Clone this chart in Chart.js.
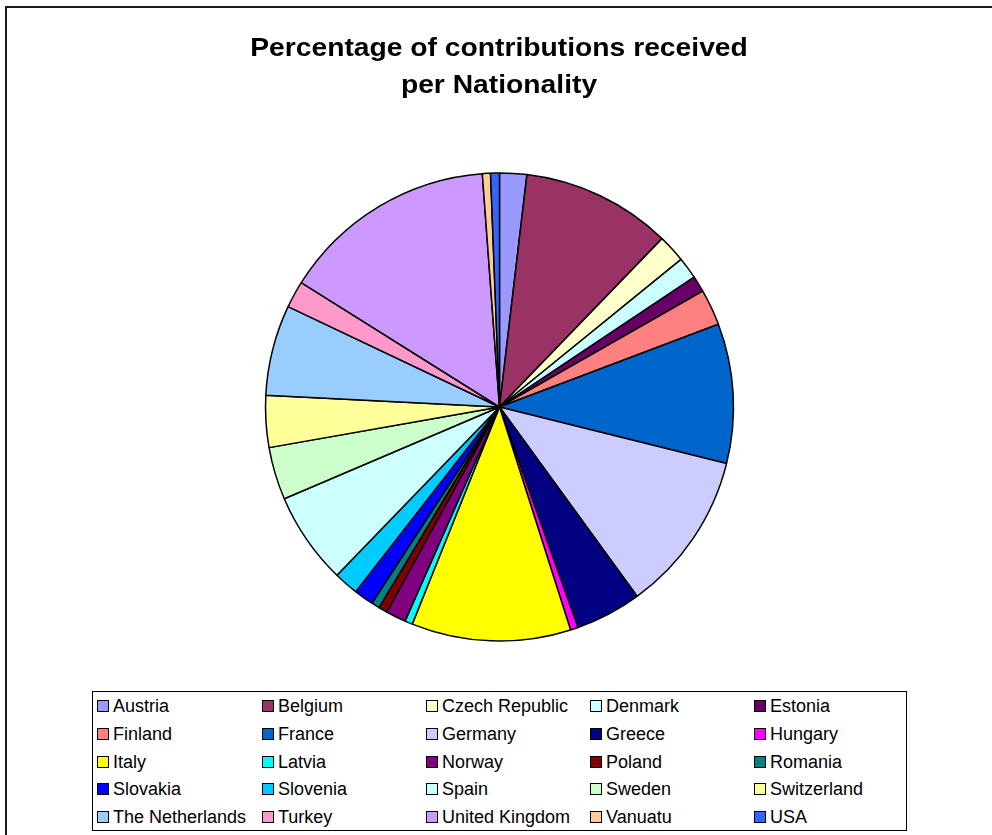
<!DOCTYPE html>
<html>
<head>
<meta charset="utf-8">
<script src="https://cdn.jsdelivr.net/npm/chart.js@4/dist/chart.umd.min.js"></script>
<style>
  html, body { margin: 0; padding: 0; background: #fff; }
  #wrap { position: relative; width: 992px; height: 835px; overflow: hidden; background: #fff; }
  #frame { position: absolute; left: 5px; top: 6px; width: 1000px; height: 900px; border-left: 2px solid #1a1a1a; border-top: 2px solid #1a1a1a; }
  #c { position: absolute; left: 0; top: 0; }
  #title { position: absolute; left: 0; top: 29px; width: 998px; text-align: center;
           font-family: "Liberation Sans", Arial, sans-serif; font-weight: bold; font-size: 25px;
           line-height: 37px; color: #000; transform: scaleX(1.13); transform-origin: 499px 0; }
  #legend { position: absolute; left: 92px; top: 691px; width: 815px; height: 140px; box-sizing: border-box;
            border: 1px solid #000; background: #fff; }
  .item { position: absolute; height: 20px; display: flex; align-items: center; white-space: nowrap;
          font-family: "Liberation Sans", Arial, sans-serif; font-size: 18px; line-height: 20px; color: #000; }
  .mk { width: 10px; height: 10px; border: 1.5px solid #000; margin-right: 4px; flex: none; }
</style>
</head>
<body>
<div id="wrap">
  <div id="frame"></div>
  <canvas id="c" width="992" height="835"></canvas>
  <div id="title">Percentage of contributions received<br>per Nationality</div>
  <div id="legend"></div>
</div>
<script>
const countries = ["Austria","Belgium","Czech Republic","Denmark","Estonia","Finland","France","Germany","Greece","Hungary","Italy","Latvia","Norway","Poland","Romania","Slovakia","Slovenia","Spain","Sweden","Switzerland","The Netherlands","Turkey","United Kingdom","Vanuatu","USA"];
const percentages = [1.87,10.35,1.92,1.50,1.11,2.50,9.64,11.11,4.56,0.53,11.00,0.53,1.39,0.61,0.56,1.36,1.69,6.36,3.64,3.58,6.25,1.86,14.92,0.56,0.61];
const sliceColors = ["#9999FF","#993366","#FFFFCC","#CCFFFF","#660066","#FF8080","#0066CC","#CCCCFF","#000080","#FF00FF","#FFFF00","#00FFFF","#800080","#800000","#008080","#0000FF","#00CCFF","#CCFFFF","#CCFFCC","#FFFF99","#99CCFF","#FF99CC","#CC99FF","#FFCC99","#3366FF"];

new Chart(document.getElementById('c'), {
  type: 'pie',
  data: {
    labels: countries,
    datasets: [{
      data: percentages,
      backgroundColor: sliceColors,
      borderColor: '#000',
      borderWidth: 1.5,
      hoverOffset: 0,
      offset: 0
    }]
  },
  options: {
    responsive: false,
    animation: false,
    radius: 234,
    layout: { padding: { left: 7, right: 0, top: 0, bottom: 21 } },
    plugins: { legend: { display: false }, title: { display: false }, tooltip: { enabled: false } },
    events: []
  }
});

// HTML legend built from the same arrays (5 columns)
const legend = document.getElementById('legend');
const colX = [97, 262, 426, 590, 754];
const rowY = [706, 733.8, 761.6, 789.4, 817.2];
countries.forEach((name, i) => {
  const col = i % 5, row = Math.floor(i / 5);
  const it = document.createElement('div');
  it.className = 'item';
  it.style.left = (colX[col] - 92 - 1) + 'px';
  it.style.top = (rowY[row] - 10 - 691 - 1) + 'px';
  const mk = document.createElement('span');
  mk.className = 'mk';
  mk.style.background = sliceColors[i];
  const tx = document.createElement('span');
  tx.textContent = name;
  it.appendChild(mk); it.appendChild(tx);
  legend.appendChild(it);
});
</script>
</body>
</html>
